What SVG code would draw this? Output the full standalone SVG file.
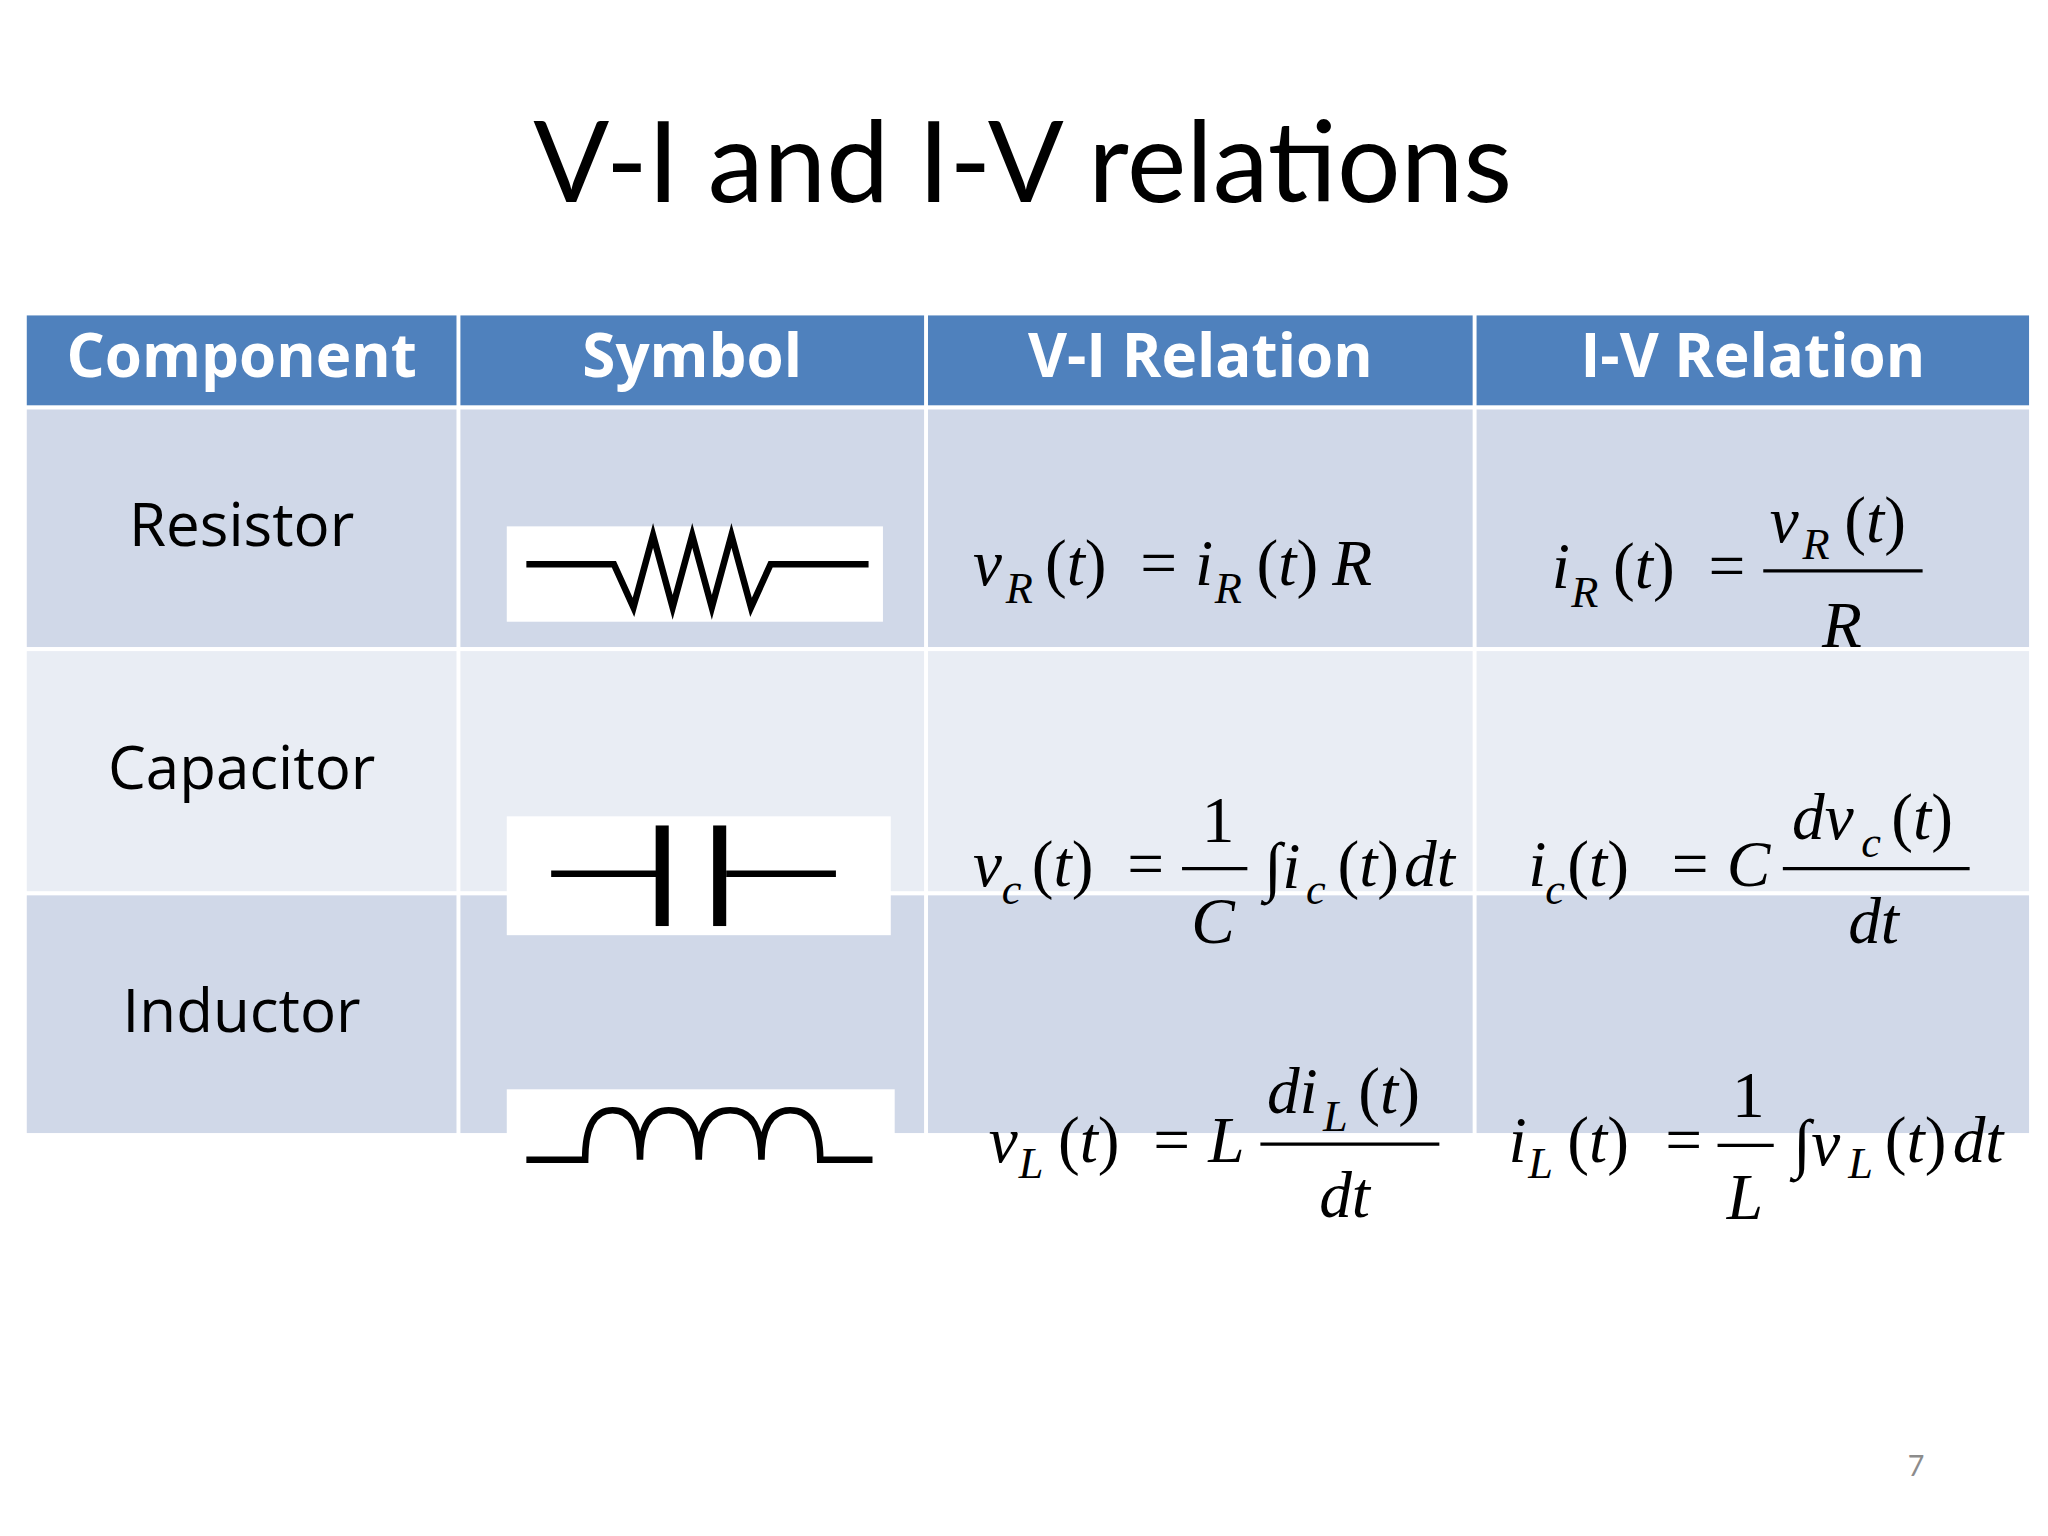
<svg xmlns="http://www.w3.org/2000/svg" width="2048" height="1536" viewBox="0 0 2048 1536">
<style>
.t{font-family:"Liberation Serif",serif;font-style:italic;font-size:50px;fill:#000}
.s{font-family:"Liberation Serif",serif;font-style:italic;font-size:34px;fill:#000}
.u{font-family:"Liberation Serif",serif;font-size:50px;fill:#000}
.h{font-family:"Open Sans","Liberation Sans",sans-serif;font-weight:bold;font-size:46px;fill:#fff;text-anchor:middle}
.l{font-family:"Open Sans","Liberation Sans",sans-serif;font-size:46px;fill:#000;text-anchor:middle}
.sym{fill:none;stroke:#000;stroke-width:5}
.fr{stroke:#000;stroke-width:2.5}
</style>
<rect width="2048" height="1536" fill="#fff"/>
<g transform="scale(1.30612)">
<text x="783" y="155" font-family="Lato,'Liberation Sans',sans-serif" font-size="86" text-anchor="middle" fill="#000">V-I and I-V relations</text>
<g id="table" stroke="#fff" stroke-width="3">
<rect x="19" y="240" width="1536" height="72" fill="#4F81BD"/>
<rect x="19" y="312" width="1536" height="185" fill="#D0D8E8"/>
<rect x="19" y="497" width="1536" height="187" fill="#E9EDF4"/>
<rect x="19" y="684" width="1536" height="185" fill="#D0D8E8"/>
<line x1="351" y1="240" x2="351" y2="869"/>
<line x1="709" y1="240" x2="709" y2="869"/>
<line x1="1129" y1="240" x2="1129" y2="869"/>
</g>
<g id="header">
<text class="h" x="185" y="289">Component</text>
<text class="h" x="530" y="289">Symbol</text>
<text class="h" x="919" y="289">V-I  Relation</text>
<text class="h" x="1342" y="289">I-V Relation</text>
</g>
<g id="labels">
<text class="l" x="185" y="418">Resistor</text>
<text class="l" x="185" y="604">Capacitor</text>
<text class="l" x="185" y="790">Inductor</text>
</g>
<g id="resistor-symbol">
<rect x="388" y="403" width="288" height="73" fill="#fff"/>
<path class="sym" d="M403 432 H470 L485 465 L500 410 L515 465 L530 410 L545 465 L560 410 L575 465 L590 432 H665"/>
</g>
<g id="capacitor-symbol">
<rect x="388" y="625" width="294" height="91" fill="#fff"/>
<path class="sym" d="M422 669 H503 M556 669 H640"/>
<rect x="502" y="632" width="10" height="77" fill="#000"/>
<rect x="546" y="632" width="10" height="77" fill="#000"/>
</g>
<g id="inductor-symbol">
<rect x="388" y="834" width="297" height="70" fill="#fff"/>
<path class="sym" d="M403 888 H448 Q448 850 469 850 Q490 850 490 888 Q490 850 512 850 Q535 850 535 888 Q535 850 559 850 Q583 850 583 888 Q583 850 605 850 Q628 850 628 888 H668"/>
</g>
<g id="formulas">
<text class="t" x="745" y="448">v</text><text class="s" x="770" y="462">R</text><text class="u" x="800" y="448">(<tspan font-style="italic">t</tspan>)</text><text class="u" x="873" y="448">=</text><text class="t" x="915" y="448">i</text><text class="s" x="930" y="462">R</text><text class="u" x="962" y="448">(<tspan font-style="italic">t</tspan>)</text><text class="t" x="1020" y="448">R</text>

<text class="t" x="1188" y="450">i</text><text class="s" x="1203" y="465">R</text><text class="u" x="1235" y="450">(<tspan font-style="italic">t</tspan>)</text><text class="u" x="1308" y="450">=</text>
<text class="t" x="1355" y="415">v</text><text class="s" x="1380" y="428">R</text><text class="u" x="1412" y="415">(<tspan font-style="italic">t</tspan>)</text>
<line class="fr" x1="1350" y1="437" x2="1472" y2="437"/><text class="t" x="1395" y="495">R</text>

<text class="t" x="745" y="678">v</text><text class="s" x="767" y="692">c</text><text class="u" x="790" y="678">(<tspan font-style="italic">t</tspan>)</text><text class="u" x="863" y="678">=</text>
<text class="u" x="920" y="645">1</text><line class="fr" x1="905" y1="665" x2="955" y2="665"/><text class="t" x="912" y="722">C</text>
<text class="t" x="968" y="680">∫i</text><text class="s" x="1000" y="692">c</text><text class="u" x="1024" y="678">(<tspan font-style="italic">t</tspan>)</text><text class="t" x="1075" y="678">dt</text>

<text class="t" x="1170" y="678">i</text><text class="s" x="1183" y="692">c</text><text class="u" x="1200" y="678">(<tspan font-style="italic">t</tspan>)</text><text class="u" x="1280" y="678">=</text><text class="t" x="1322" y="678">C</text>
<text class="t" x="1372" y="642">dv</text><text class="s" x="1425" y="656">c</text><text class="u" x="1448" y="642">(<tspan font-style="italic">t</tspan>)</text>
<line class="fr" x1="1365" y1="665" x2="1508" y2="665"/><text class="t" x="1415" y="722">dt</text>

<text class="t" x="757" y="890">v</text><text class="s" x="780" y="902">L</text><text class="u" x="810" y="890">(<tspan font-style="italic">t</tspan>)</text><text class="u" x="883" y="890">=</text><text class="t" x="925" y="890">L</text>
<text class="t" x="970" y="852">di</text><text class="s" x="1013" y="866">L</text><text class="u" x="1040" y="852">(<tspan font-style="italic">t</tspan>)</text>
<line class="fr" x1="965" y1="876" x2="1102" y2="876"/><text class="t" x="1010" y="932">dt</text>

<text class="t" x="1155" y="890">i</text><text class="s" x="1170" y="902">L</text><text class="u" x="1200" y="890">(<tspan font-style="italic">t</tspan>)</text><text class="u" x="1275" y="890">=</text>
<text class="u" x="1326" y="855">1</text><line class="fr" x1="1315" y1="877" x2="1358" y2="877"/><text class="t" x="1322" y="933">L</text>
<text class="t" x="1373" y="892">∫v</text><text class="s" x="1415" y="902">L</text><text class="u" x="1443" y="890">(<tspan font-style="italic">t</tspan>)</text><text class="t" x="1495" y="890">dt</text>
</g>
<text x="1467" y="1130" font-family="Lato,'Liberation Sans',sans-serif" font-size="22" fill="#8c8c8c" text-anchor="middle">7</text>
</g>
</svg>
